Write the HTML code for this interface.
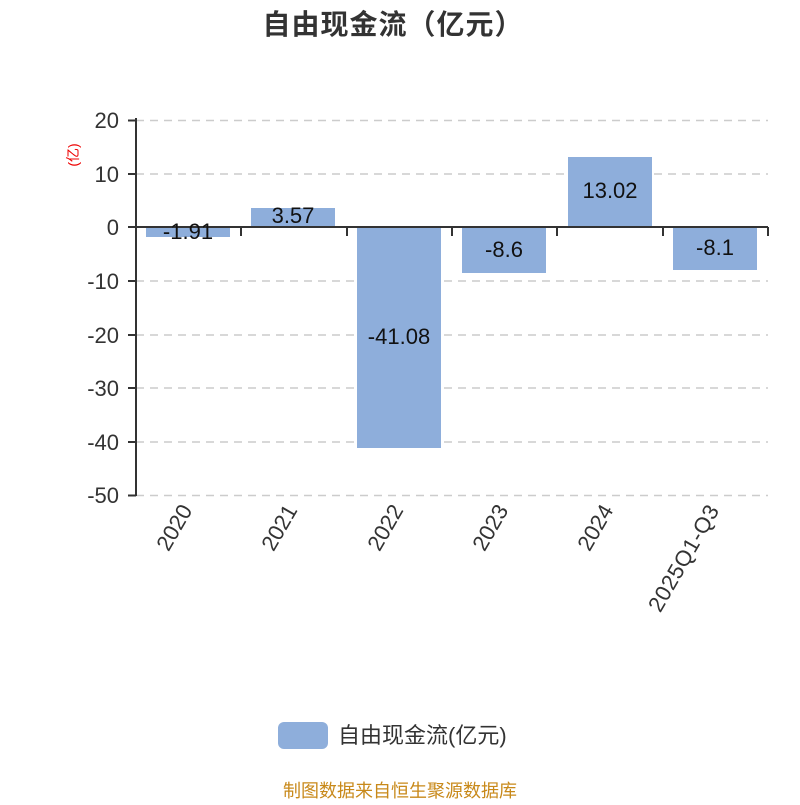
<!DOCTYPE html>
<html><head><meta charset="utf-8"><style>body{margin:0;background:#fff}</style></head>
<body>
<svg width="800" height="800" xmlns="http://www.w3.org/2000/svg" font-family="'Liberation Sans','Noto Sans CJK SC',sans-serif">
<rect width="800" height="800" fill="#fff"/>
<text x="393" y="34" text-anchor="middle" font-size="28" font-weight="bold" fill="#333" letter-spacing="1">自由现金流（亿元）</text>
<g stroke="#ccc" stroke-width="1.5" stroke-dasharray="8,6">
<line x1="136" y1="120.5" x2="768" y2="120.5"/>
<line x1="136" y1="174" x2="768" y2="174"/>
<line x1="136" y1="281" x2="768" y2="281"/>
<line x1="136" y1="335" x2="768" y2="335"/>
<line x1="136" y1="388" x2="768" y2="388"/>
<line x1="136" y1="442" x2="768" y2="442"/>
<line x1="136" y1="495.5" x2="768" y2="495.5"/>
</g>
<g fill="#8eaedb">
<rect x="146" y="227" width="84" height="10"/>
<rect x="251" y="208" width="84" height="19"/>
<rect x="357" y="227" width="84" height="221"/>
<rect x="462" y="227" width="84" height="46"/>
<rect x="568" y="157" width="84" height="70"/>
<rect x="673" y="227" width="84" height="43"/>
</g>
<g stroke="#333" stroke-width="2" fill="none">
<line x1="136" y1="118" x2="136" y2="496"/>
<line x1="128" y1="120.5" x2="136" y2="120.5"/>
<line x1="128" y1="174" x2="136" y2="174"/>
<line x1="128" y1="227" x2="136" y2="227"/>
<line x1="128" y1="281" x2="136" y2="281"/>
<line x1="128" y1="335" x2="136" y2="335"/>
<line x1="128" y1="388" x2="136" y2="388"/>
<line x1="128" y1="442" x2="136" y2="442"/>
<line x1="128" y1="495.5" x2="136" y2="495.5"/>
<line x1="136" y1="227" x2="768" y2="227"/>
<line x1="241" y1="227" x2="241" y2="236"/>
<line x1="347" y1="227" x2="347" y2="236"/>
<line x1="452" y1="227" x2="452" y2="236"/>
<line x1="557" y1="227" x2="557" y2="236"/>
<line x1="663" y1="227" x2="663" y2="236"/>
<line x1="768" y1="227" x2="768" y2="236"/>
</g>
<g font-size="22" fill="#333" text-anchor="end">
<text x="119" y="128">20</text>
<text x="119" y="182">10</text>
<text x="119" y="235">0</text>
<text x="119" y="289">-10</text>
<text x="119" y="343">-20</text>
<text x="119" y="396">-30</text>
<text x="119" y="450">-40</text>
<text x="119" y="503">-50</text>
</g>
<text transform="translate(78,155) rotate(-90)" text-anchor="middle" font-size="14" fill="#e00">(亿)</text>
<g font-size="22" fill="#111" text-anchor="middle">
<text x="188" y="239">-1.91</text>
<text x="293" y="223">3.57</text>
<text x="399" y="344">-41.08</text>
<text x="504" y="257">-8.6</text>
<text x="610" y="198">13.02</text>
<text x="715" y="255">-8.1</text>
</g>
<g font-size="22" fill="#333" text-anchor="end">
<text transform="translate(193,510) rotate(-60)">2020</text>
<text transform="translate(298,510) rotate(-60)">2021</text>
<text transform="translate(404,510) rotate(-60)">2022</text>
<text transform="translate(509,510) rotate(-60)">2023</text>
<text transform="translate(614,510) rotate(-60)">2024</text>
<text transform="translate(720,510) rotate(-60)" letter-spacing="0.5">2025Q1-Q3</text>
</g>
<rect x="278" y="722" width="50" height="27" rx="6" fill="#8eaedb"/>
<text x="338" y="743" font-size="22" fill="#333">自由现金流(亿元)</text>
<text x="400" y="797" text-anchor="middle" font-size="18" fill="#c8891a">制图数据来自恒生聚源数据库</text>
</svg>
</body></html>
